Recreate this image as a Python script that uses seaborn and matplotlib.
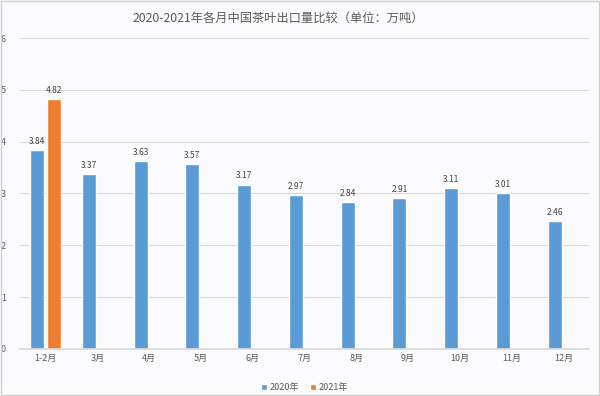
import pandas as pd
import numpy as np
import seaborn as sns
import matplotlib.pyplot as plt

months = ["1-2月", "3月", "4月", "5月", "6月", "7月", "8月", "9月", "10月", "11月", "12月"]
vals_2020 = [3.84, 3.37, 3.63, 3.57, 3.17, 2.97, 2.84, 2.91, 3.11, 3.01, 2.46]
vals_2021 = [4.82] + [np.nan] * 10
years = ["2020年", "2021年"]
colors = ["#5B9BD5", "#ED7D31"]

df = pd.DataFrame({
    "month": months * 2,
    "year": [years[0]] * len(months) + [years[1]] * len(months),
    "value": vals_2020 + vals_2021,
})

sns.set_theme(style="white")
plt.rcParams['font.family'] = ['Noto Sans CJK SC', 'DejaVu Sans']

fig = plt.figure(figsize=(6, 3.96), dpi=100, facecolor="#fbfbfd")
ax = fig.add_axes([0.033, 0.119, 0.949, 0.785])
ax.set_facecolor("#fbfbfd")

sns.barplot(data=df, x="month", y="value", hue="year", palette=colors,
            saturation=1, width=0.66, gap=0.18, ax=ax, legend=True)

# value labels
for cont in ax.containers:
    labels = ["" if np.isnan(v) else f"{v:.2f}" for v in cont.datavalues]
    ax.bar_label(cont, labels=labels, padding=3, fontsize=6, color="#404040")

ax.set_ylim(0, 6)
ax.set_xlim(-0.5, 10.5)
ax.set_yticks(range(7))
ax.yaxis.grid(True, color="#d9d9d9", linewidth=0.8)
ax.set_axisbelow(True)
for s in ["top", "right", "left"]:
    ax.spines[s].set_visible(False)
ax.spines["bottom"].set_color("#d9d9d9")
ax.tick_params(axis="both", length=0, labelsize=6.5, colors="#595959")
ax.tick_params(axis="y", pad=10)
ax.set_xlabel("")
ax.set_ylabel("")

ax.legend(loc="upper center", bbox_to_anchor=(0.5, -0.085), ncol=2, frameon=False,
          fontsize=6.5, handlelength=0.7, handleheight=0.7, handletextpad=0.3,
          columnspacing=1.2, labelcolor="#595959")

fig.text(0.463, 0.955, "2020-2021年各月中国茶叶出口量比较（单位：万吨）",
         ha="center", va="center", fontsize=8.8, color="#595959")

# thin frame around the image
fig.patches.append(plt.Rectangle((0.002, 0.003), 0.996, 0.994, transform=fig.transFigure,
                                 fill=False, edgecolor="#d0d0d0", linewidth=1))

fig.savefig("out.png", dpi=100, facecolor=fig.get_facecolor())
